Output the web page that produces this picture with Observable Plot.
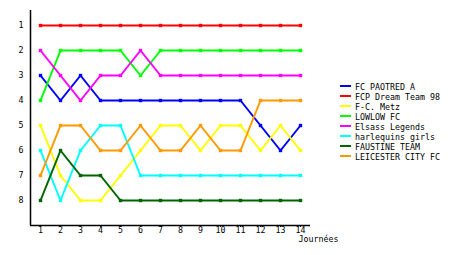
<!DOCTYPE html>
<html><head><meta charset="utf-8">
<script src="https://cdn.jsdelivr.net/npm/d3@7"></script>
<script src="https://cdn.jsdelivr.net/npm/@observablehq/plot@0.6"></script>
<style>
body{margin:0;background:#fff;}
#wrap{position:relative;width:460px;height:255px;font-family:"DejaVu Sans Mono",monospace;}
#legend{position:absolute;left:340px;top:81px;font-size:8.3px;color:#000;}
.row{height:10px;position:relative;white-space:nowrap;}
.sw{position:absolute;left:0;top:4px;width:11px;height:2px;}
.lb{position:absolute;left:15px;top:1px;line-height:10px;}
</style></head>
<body><div id="wrap"><div id="legend"></div></div>
<script>
const rounds = [1,2,3,4,5,6,7,8,9,10,11,12,13,14];
const teams = ["FC PAOTRED A","FCP Dream Team 98","F-C. Metz","LOWLOW FC","Elsass Legends","harlequins girls","FAUSTINE TEAM","LEICESTER CITY FC"];
const colors = ["#0000ff","#ff0000","#ffff00","#00ff00","#ff00ff","#00ffff","#006400","#ff9900"];
const paotred   = [3,4,3,4,4,4,4,4,4,4,4,5,6,5];
const dreamTeam = [1,1,1,1,1,1,1,1,1,1,1,1,1,1];
const metz      = [5,7,8,8,7,6,5,5,6,5,5,6,5,6];
const lowlow    = [4,2,2,2,2,3,2,2,2,2,2,2,2,2];
const elsass    = [2,3,4,3,3,2,3,3,3,3,3,3,3,3];
const harlequins= [6,8,6,5,5,7,7,7,7,7,7,7,7,7];
const faustine  = [8,6,7,7,8,8,8,8,8,8,8,8,8,8];
const leicester = [7,5,5,6,6,5,6,6,5,6,6,4,4,4];
const yTicks = [1,2,3,4,5,6,7,8];
const xLabel = "Journées";

const series = [paotred,dreamTeam,metz,lowlow,elsass,harlequins,faustine,leicester];
const data = [];
series.forEach((s,i)=>s.forEach((v,j)=>data.push({team:teams[i],round:rounds[j],rank:v})));

const font = "DejaVu Sans Mono";
const chart = Plot.plot({
  width:460, height:255,
  marginLeft:30, marginRight:150, marginTop:10, marginBottom:30,
  style:{fontFamily:font, fontSize:"8.3px", background:"#fff", color:"#000"},
  x:{domain:[0.5,14.5]},
  y:{domain:[0.4,9], reverse:true},
  color:{domain:teams, range:colors},
  marks:[
    Plot.line(data,{x:"round",y:"rank",z:"team",stroke:"team",strokeWidth:2,curve:"linear"}),
    Plot.dot(data,{x:"round",y:"rank",fill:"team",symbol:"square",r:1.9}),
    Plot.ruleX([0.5],{stroke:"#000",strokeWidth:1.5}),
    Plot.ruleY([9],{stroke:"#000",strokeWidth:1.5}),
    Plot.axisX({ticks:rounds,tickSize:2,tickPadding:0,label:null,fontSize:8.3}),
    Plot.axisY({ticks:yTicks,tickSize:0,tickPadding:7,label:null,fontSize:8.3}),
    Plot.text([xLabel],{frameAnchor:"bottom-right",dx:28,dy:16.5,text:d=>d,fontSize:8.3})
  ]
});
const wrap = document.getElementById("wrap");
wrap.insertBefore(chart, wrap.firstChild);
const lg = document.getElementById("legend");
teams.forEach((t,i)=>{
  const r=document.createElement("div");r.className="row";
  r.innerHTML=`<div class="sw" style="background:${colors[i]}"></div><div class="lb">${t}</div>`;
  lg.appendChild(r);
});
</script></body></html>
